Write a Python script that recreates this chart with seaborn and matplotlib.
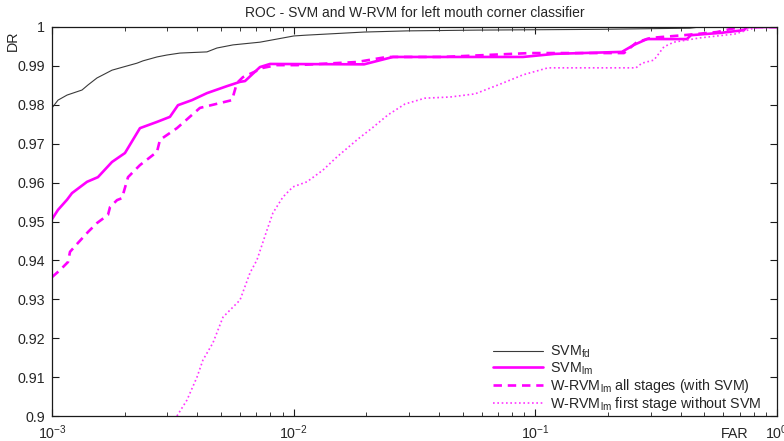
import numpy as np
import pandas as pd
import matplotlib
matplotlib.use("Agg")
import matplotlib.pyplot as plt
import seaborn as sns
from matplotlib.ticker import FixedLocator, FuncFormatter, LogLocator, NullFormatter

# ---------------- data ----------------
far_svm_fd = [0.001, 1.059e-3, 1.154e-3, 1.331e-3, 1.409e-3, 1.535e-3, 1.626e-3, 1.771e-3,
              1.967e-3, 2.247e-3, 2.380e-3, 2.719e-3, 2.990e-3, 3.385e-3, 4.378e-3, 4.815e-3,
              5.609e-3, 7.254e-3, 1.002e-2, 1.124e-2, 1.954e-2, 2.944e-2, 5.731e-2, 0.185,
              0.4365, 0.480, 1.0]
dr_svm_fd = [0.9792, 0.9812, 0.9825, 0.9838, 0.9851, 0.9869, 0.9877, 0.9889,
             0.9897, 0.9907, 0.9913, 0.9923, 0.9928, 0.9933, 0.9936, 0.9946,
             0.9954, 0.9961, 0.9977, 0.9979, 0.9987, 0.9990, 0.9992, 0.9994,
             0.9997, 1.0, 1.0]

far_svm_lm = [0.001, 1.059e-3, 1.154e-3, 1.210e-3, 1.396e-3, 1.549e-3, 1.771e-3, 2.004e-3,
              2.312e-3, 2.719e-3, 3.076e-3, 3.321e-3, 3.795e-3, 4.378e-3, 5.297e-3, 5.997e-3,
              6.291e-3, 7.254e-3, 7.980e-3, 1.954e-2, 2.576e-2, 8.892e-2, 0.1205, 0.2281,
              0.2559, 0.2897, 0.4236, 0.4406, 0.5866, 0.7296, 0.7516, 1.0]
dr_svm_lm = [0.9506, 0.9530, 0.9556, 0.9573, 0.9602, 0.9614, 0.9653, 0.9676,
             0.9740, 0.9756, 0.9769, 0.9799, 0.9812, 0.9830, 0.9848, 0.9859,
             0.9861, 0.9897, 0.9905, 0.9904, 0.9923, 0.9923, 0.9931, 0.9936,
             0.9954, 0.9969, 0.9969, 0.9979, 0.9985, 0.9992, 1.0, 1.0]

far_wrvm_all = [0.001, 1.079e-3, 1.165e-3, 1.187e-3, 1.281e-3, 1.409e-3, 1.535e-3, 1.705e-3,
                1.738e-3, 1.858e-3, 1.948e-3, 2.063e-3, 2.312e-3, 2.719e-3, 2.798e-3, 3.289e-3,
                4.093e-3, 5.557e-3, 5.823e-3, 6.166e-3, 7.464e-3, 8.531e-3, 1.033e-2, 1.828e-2,
                2.432e-2, 4.147e-2, 9.506e-2, 0.2328, 0.2630, 0.3006, 0.4121, 0.5641,
                0.6442, 0.7096, 1.0]
dr_wrvm_all = [0.9357, 0.9375, 0.9396, 0.9422, 0.9445, 0.9473, 0.9496, 0.9517,
               0.9537, 0.9555, 0.9560, 0.9614, 0.9645, 0.9679, 0.9710, 0.9740,
               0.9792, 0.9812, 0.9856, 0.9871, 0.9895, 0.9902, 0.9902, 0.9910,
               0.9923, 0.9923, 0.9933, 0.9933, 0.9961, 0.9972, 0.9979, 0.9987,
               0.9995, 1.0, 1.0]

far_wrvm_first = [3.289e-3, 3.618e-3, 3.981e-3, 4.214e-3, 4.634e-3, 5.099e-3, 5.609e-3, 5.997e-3,
                  6.597e-3, 7.047e-3, 7.755e-3, 8.206e-3, 9.03e-3, 9.93e-3, 1.135e-2, 1.321e-2,
                  1.510e-2, 1.845e-2, 2.109e-2, 2.455e-2, 2.887e-2, 3.491e-2, 4.436e-2, 5.623e-2,
                  7.145e-2, 8.892e-2, 0.1127, 0.2608, 0.2761, 0.3097, 0.3404, 0.3741,
                  0.4797, 0.6699, 0.8017, 0.849, 1.0]
dr_wrvm_first = [0.9000, 0.9041, 0.9100, 0.9144, 0.9188, 0.9254, 0.9280, 0.9298,
                 0.9368, 0.9401, 0.9478, 0.9522, 0.9563, 0.9589, 0.9602, 0.9632,
                 0.9666, 0.9712, 0.9740, 0.9774, 0.9802, 0.9817, 0.9820, 0.9828,
                 0.9853, 0.9877, 0.9895, 0.9895, 0.9907, 0.9915, 0.9949, 0.9961,
                 0.9972, 0.9982, 0.9997, 1.0, 1.0]

labels = [r"SVM$_{\mathrm{fd}}$",
          r"SVM$_{\mathrm{lm}}$",
          r"W-RVM$_{\mathrm{lm}}$ all stages (with SVM)",
          r"W-RVM$_{\mathrm{lm}}$ first stage without SVM"]
y_ticks = [0.90, 0.91, 0.92, 0.93, 0.94, 0.95, 0.96, 0.97, 0.98, 0.99, 1.00]
title = "ROC - SVM and W-RVM for left mouth corner classifier"

# ---------------- style ----------------
sns.set_style("white")
plt.rcParams["font.family"] = ["Liberation Sans", "DejaVu Sans"]
plt.rcParams["mathtext.fontset"] = "custom"
plt.rcParams["mathtext.rm"] = "Liberation Sans"
plt.rcParams["mathtext.it"] = "Liberation Sans:italic"
plt.rcParams["mathtext.default"] = "regular"

txt = "#262626"
fs = 10.3
fig = plt.figure(figsize=(7.84, 4.41), dpi=100)
ax = fig.add_axes([52 / 784, 25 / 441, 725 / 784, 389 / 441])

series = [
    (far_svm_fd, dr_svm_fd, labels[0], dict(color="#3a3a3a", lw=0.8, ls="-")),
    (far_svm_lm, dr_svm_lm, labels[1], dict(color="#ff00ff", lw=1.9, ls="-")),
    (far_wrvm_all, dr_wrvm_all, labels[2], dict(color="#ff00ff", lw=1.9, ls=(0, (3.2, 2.2)))),
    (far_wrvm_first, dr_wrvm_first, labels[3], dict(color="#ff33ff", lw=1.2, ls=(0, (1, 1.6)))),
]
for xs, ys, lab, st in series:
    df = pd.DataFrame({"FAR": xs, "DR": ys})
    sns.lineplot(data=df, x="FAR", y="DR", ax=ax, sort=False, estimator=None,
                 color=st["color"], lw=st["lw"], linestyle=st["ls"], label=lab)

ax.set_xscale("log")
ax.set_xlim(1e-3, 1.0)
ax.set_ylim(0.9, 1.0)

ax.yaxis.set_major_locator(FixedLocator(y_ticks))
ax.yaxis.set_major_formatter(FuncFormatter(lambda v, p: f"{v:g}"))
ax.xaxis.set_major_locator(LogLocator(base=10, numticks=10))
ax.xaxis.set_minor_locator(LogLocator(base=10, subs=np.arange(2, 10), numticks=20))
ax.xaxis.set_minor_formatter(NullFormatter())

for s in ax.spines.values():
    s.set_color("#1a1a1a")
    s.set_linewidth(0.9)
ax.tick_params(which="both", direction="in", top=True, right=True, bottom=True, left=True,
               colors="#1a1a1a", labelcolor=txt, labelsize=fs)
ax.tick_params(which="major", length=5, width=0.8, pad=5)
ax.tick_params(which="minor", length=3, width=0.6)

ax.set_title(title, fontsize=10, color=txt, pad=7)
ax.set_xlabel("FAR", fontsize=fs, color=txt)
ax.set_ylabel("DR", fontsize=fs, color=txt)
ax.xaxis.set_label_coords(0.942, -0.028)
ax.yaxis.set_label_coords(-0.045, 0.965)
ax.grid(False)

leg = ax.legend(loc="lower right", bbox_to_anchor=(0.989, -0.012), frameon=False, fontsize=fs,
                handlelength=3.5, handletextpad=0.45, labelspacing=0.0, borderaxespad=0.15)
for t in leg.get_texts():
    t.set_color(txt)

fig.savefig("out.png", dpi=100)
